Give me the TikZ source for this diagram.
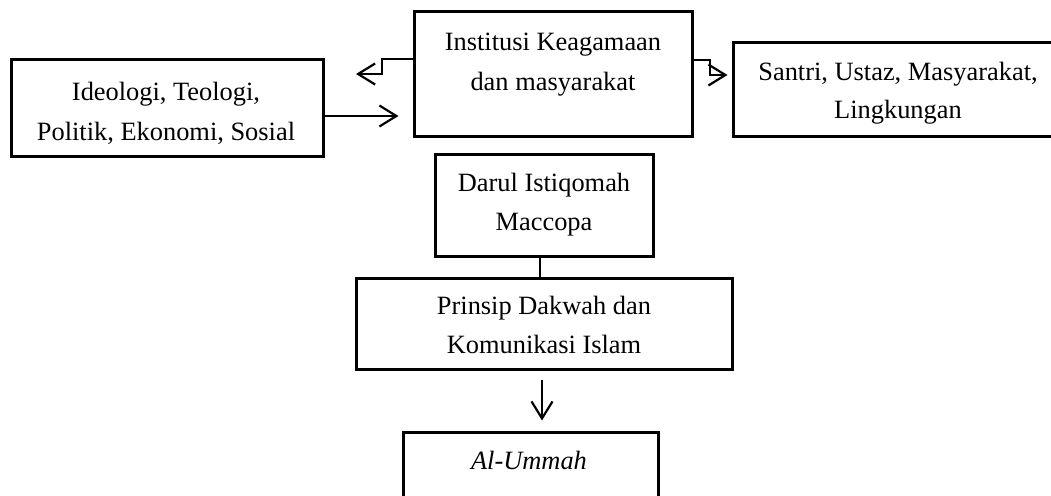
\documentclass[tikz,border=0pt]{standalone}
\usepackage{fontspec}
\setmainfont{Liberation Serif}
\usetikzlibrary{arrows.meta}
\tikzset{
  box/.style={draw=black, line width=3pt, inner sep=0pt, fill=white},
  txt/.style={anchor=base, inner sep=0pt, font=\fontsize{26.4}{40}\selectfont},
  conn/.style={draw=black, line width=2.2pt},
  barb/.style={-{Straight Barb[length=17pt,width=21pt,line width=2.2pt]}}
}
\begin{document}
\begin{tikzpicture}[x=1pt,y=-1pt]
\useasboundingbox (0,0) rectangle (1051,495);
\fill[white] (0,0) rectangle (1051,495);
\clip (0,0) rectangle (1051,495);

% boxes
\node[box, minimum width=312pt, minimum height=96pt] (ideo) at (167,108) {};
\node[box, minimum width=278pt, minimum height=124pt] (inst) at (553,74) {};
\node[box, minimum width=330pt, minimum height=93pt] (santri) at (898,89.5) {};
\node[box, minimum width=218pt, minimum height=102pt] (darul) at (544,205) {};
\node[box, minimum width=376pt, minimum height=91pt] (prinsip) at (544,323.5) {};
\node[box, minimum width=255pt, minimum height=78pt] (ummah) at (530.5,471) {};

% texts
\node[txt] (ideo1) at (166,100) {Ideologi, Teologi,};
\node[txt] (ideo2) at (166,140) {Politik, Ekonomi, Sosial};
\node[txt] (inst1) at (553,51) {Institusi Keagamaan};
\node[txt] (inst2) at (553,90) {dan masyarakat};
\node[txt] (santri1) at (898,80) {Santri, Ustaz, Masyarakat,};
\node[txt] (santri2) at (898,118) {Lingkungan};
\node[txt] (darul1) at (544,191) {Darul Istiqomah};
\node[txt] (darul2) at (544,230) {Maccopa};
\node[txt] (prinsip1) at (544,314) {Prinsip Dakwah dan};
\node[txt] (prinsip2) at (544,353) {Komunikasi Islam};
\node[txt] (ummah1) at (529,469) {\itshape Al-Ummah};

% connectors
\coordinate (ltip) at (356,74);
\draw[conn, barb] (inst.west |- 0,59) -| (382,74) -- (ltip);
\draw[conn, barb, shorten >=14pt] (ideo.east |- 0,116) -- (inst.west |- 0,116);
\draw[conn, barb, shorten >=4pt] (inst.east |- 0,60) -| (710,75) -- (santri.west |- 0,75);
\draw[conn] (darul.south -| 540,0) -- (prinsip.north -| 540,0);
\draw[conn, barb, shorten <=9pt, shorten >=10pt] (prinsip.south -| 542,0) -- (ummah.north -| 542,0);
\end{tikzpicture}
\end{document}
